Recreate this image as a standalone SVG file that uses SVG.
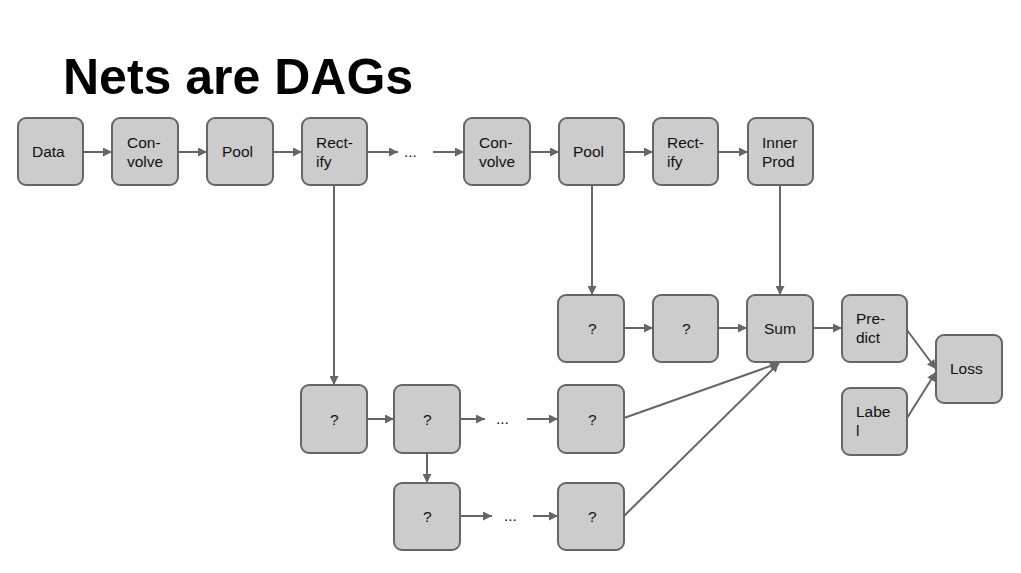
<svg xmlns="http://www.w3.org/2000/svg" width="1021" height="573" viewBox="0 0 1021 573">
<defs>
<style>
.n rect{fill:#cccccc;stroke:#666666;stroke-width:2}
.n text{font-family:"Liberation Sans",Arial,sans-serif;font-size:15.5px;fill:#111}
#edges line{stroke:#666666;stroke-width:2;fill:none;marker-end:url(#ah)}
.dots{font-family:"Liberation Sans",Arial,sans-serif;font-size:15.5px;fill:#111}
</style>
<marker id="ah" viewBox="0 0 10 10" refX="10" refY="5" markerWidth="13" markerHeight="9" markerUnits="userSpaceOnUse" orient="auto">
<path d="M0,0 L10,5 L0,10 Z" fill="#666666"/>
</marker>
</defs>
<rect width="1021" height="573" fill="#ffffff"/>
<text x="63" y="94" font-family="Liberation Sans,Arial,sans-serif" font-weight="bold" font-size="50" fill="#000">Nets are DAGs</text>

<g id="edges">
<line x1="83" y1="152" x2="112" y2="152"/>
<line x1="178" y1="152" x2="207" y2="152"/>
<line x1="273" y1="152" x2="302" y2="152"/>
<line x1="367" y1="152" x2="398" y2="152"/>
<line x1="433" y1="152" x2="464" y2="152"/>
<line x1="530" y1="152" x2="559" y2="152"/>
<line x1="624" y1="152" x2="653" y2="152"/>
<line x1="718" y1="152" x2="748" y2="152"/>
<line x1="592" y1="185" x2="592" y2="295"/>
<line x1="780" y1="185" x2="780" y2="295"/>
<line x1="624" y1="328" x2="653" y2="328"/>
<line x1="718" y1="328" x2="747" y2="328"/>
<line x1="813" y1="328" x2="842" y2="328"/>
<line x1="907" y1="330" x2="936" y2="369"/>
<line x1="907" y1="418" x2="936" y2="372"/>
<line x1="334" y1="185" x2="334" y2="385"/>
<line x1="367" y1="419" x2="394" y2="419"/>
<line x1="460" y1="419" x2="485" y2="419"/>
<line x1="527" y1="419" x2="558" y2="419"/>
<line x1="427" y1="453" x2="427" y2="483"/>
<line x1="460" y1="516" x2="492" y2="516"/>
<line x1="533" y1="516" x2="558" y2="516"/>
<line x1="624" y1="418" x2="779" y2="363"/>
<line x1="624" y1="516" x2="779" y2="363"/>
</g>
<text class="dots" x="404" y="157">...</text>
<text class="dots" x="496" y="424">...</text>
<text class="dots" x="504" y="521">...</text>

<g id="data" class="n"><rect x="18" y="118" width="65" height="67" rx="8"/><text x="32" y="157">Data</text></g>
<g id="convolve1" class="n"><rect x="112" y="118" width="66" height="67" rx="8"/><text x="127" y="148">Con-</text><text x="127" y="167">volve</text></g>
<g id="pool1" class="n"><rect x="207" y="118" width="66" height="67" rx="8"/><text x="222" y="157">Pool</text></g>
<g id="rectify1" class="n"><rect x="302" y="118" width="65" height="67" rx="8"/><text x="316" y="148">Rect-</text><text x="316" y="167">ify</text></g>
<g id="convolve2" class="n"><rect x="464" y="118" width="66" height="67" rx="8"/><text x="479" y="148">Con-</text><text x="479" y="167">volve</text></g>
<g id="pool2" class="n"><rect x="559" y="118" width="65" height="67" rx="8"/><text x="573" y="157">Pool</text></g>
<g id="rectify2" class="n"><rect x="653" y="118" width="65" height="67" rx="8"/><text x="667" y="148">Rect-</text><text x="667" y="167">ify</text></g>
<g id="innerprod" class="n"><rect x="748" y="118" width="65" height="67" rx="8"/><text x="762" y="148">Inner</text><text x="762" y="167">Prod</text></g>

<g id="q1" class="n"><rect x="558" y="295" width="66" height="67" rx="8"/><text x="588" y="334">?</text></g>
<g id="q2" class="n"><rect x="653" y="295" width="65" height="67" rx="8"/><text x="682" y="334">?</text></g>
<g id="sum" class="n"><rect x="747" y="295" width="66" height="67" rx="8"/><text x="764" y="334">Sum</text></g>
<g id="predict" class="n"><rect x="842" y="295" width="65" height="67" rx="8"/><text x="856" y="324">Pre-</text><text x="856" y="343">dict</text></g>
<g id="loss" class="n"><rect x="936" y="335" width="66" height="68" rx="8"/><text x="950" y="374">Loss</text></g>
<g id="label" class="n"><rect x="842" y="388" width="65" height="67" rx="8"/><text x="856" y="417">Labe</text><text x="856" y="436">l</text></g>

<g id="q3" class="n"><rect x="301" y="385" width="66" height="68" rx="8"/><text x="330" y="425">?</text></g>
<g id="q4" class="n"><rect x="394" y="385" width="66" height="68" rx="8"/><text x="423" y="425">?</text></g>
<g id="q5" class="n"><rect x="558" y="385" width="66" height="68" rx="8"/><text x="588" y="425">?</text></g>
<g id="q6" class="n"><rect x="394" y="483" width="66" height="67" rx="8"/><text x="423" y="522">?</text></g>
<g id="q7" class="n"><rect x="558" y="483" width="66" height="67" rx="8"/><text x="588" y="522">?</text></g>
</svg>
